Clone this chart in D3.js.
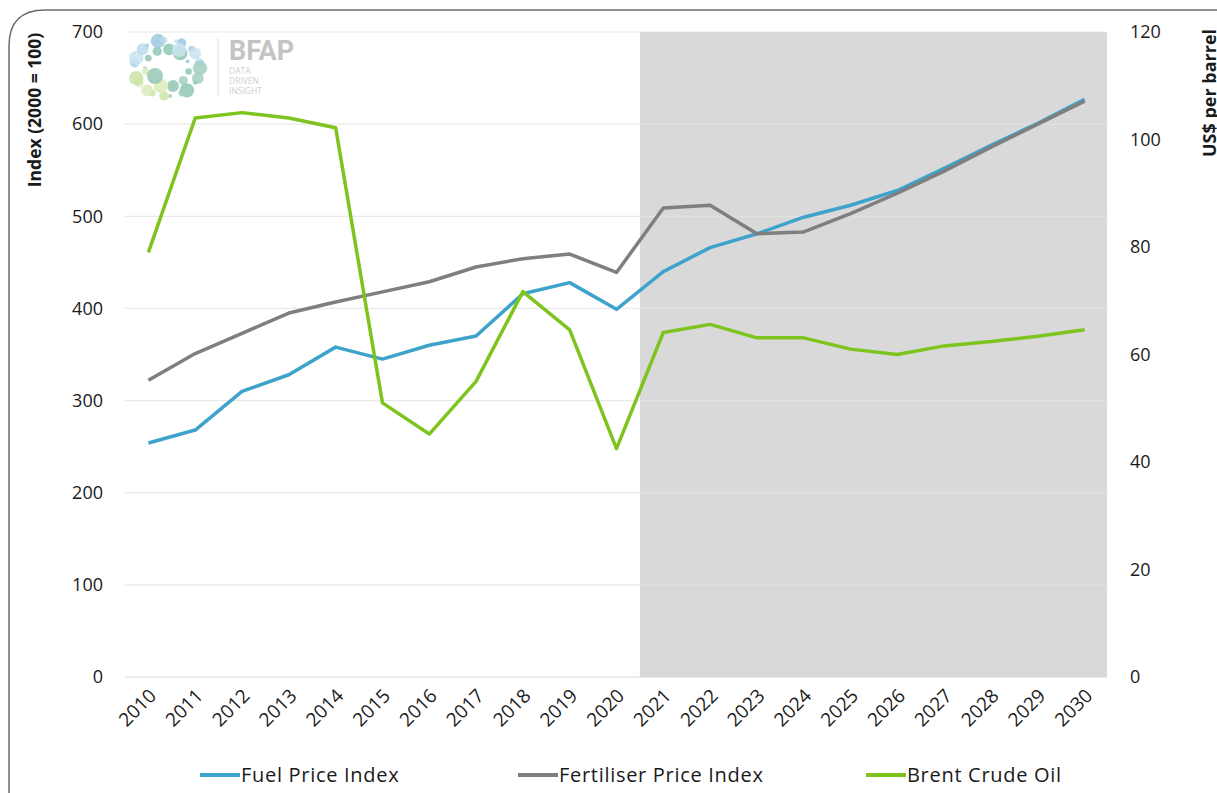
<!DOCTYPE html>
<html>
<head>
<meta charset="utf-8">
<script src="https://cdn.jsdelivr.net/npm/d3@7"></script>
<style>
    body { margin: 0; background: #fff; }
    svg text { font-family: "Open Sans", "Liberation Sans", sans-serif; fill: #1a1a1a; }
</style>
</head>
<body>
<svg id="chart" width="1217" height="793"></svg>
<script>
// Chart data
const years = ['2010','2011','2012','2013','2014','2015','2016','2017','2018','2019','2020',
               '2021','2022','2023','2024','2025','2026','2027','2028','2029','2030'];
const fuelIndex = [254, 268, 310, 328, 358, 345, 360, 370, 416, 428, 399,
                   440, 466, 481, 499, 512, 528, 552, 577, 601, 627];
const fertiliserIndex = [322, 351, 373, 395, 407, 418, 429, 445, 454, 459, 439,
                         509, 512, 481, 483, 503, 525, 549, 575, 600, 625];
const brentCrude = [79, 104, 105, 104, 102.2, 51, 45.2, 55, 71.7, 64.6, 42.5,
                    64.1, 65.6, 63.1, 63.1, 61, 60, 61.6, 62.4, 63.4, 64.6];
const leftTicks = [0, 100, 200, 300, 400, 500, 600, 700];
const rightTicks = [0, 20, 40, 60, 80, 100, 120];
const projectionStart = '2021';

const series = [
    { name: 'Fuel Price Index', values: fuelIndex, axis: 'left', color: '#3ea3cb' },
    { name: 'Fertiliser Price Index', values: fertiliserIndex, axis: 'left', color: '#7f7f7f' },
    { name: 'Brent Crude Oil', values: brentCrude, axis: 'right', color: '#7ec41e' }
];

const svg = d3.select('#chart');
const plot = { left: 125, right: 1108, top: 32, bottom: 677 };

const x = d3.scaleBand().domain(years).range([plot.left, plot.right]);
const yLeft = d3.scaleLinear().domain([0, 700]).range([plot.bottom, plot.top]);
const yRight = d3.scaleLinear().domain([0, 120]).range([plot.bottom, plot.top]);

// outer frame with rounded corner
svg.append('path')
    .attr('d', 'M9,793 L9,46 Q9,10 45,10 L1217,10')
    .attr('fill', 'none')
    .attr('stroke', '#6b6b6b')
    .attr('stroke-width', 1.5);

// projection shading
svg.append('rect')
    .attr('x', x(projectionStart))
    .attr('y', plot.top)
    .attr('width', plot.right - 1 - x(projectionStart))
    .attr('height', plot.bottom - plot.top)
    .attr('fill', '#d9d9d9');

// gridlines
svg.append('g')
    .selectAll('line')
    .data(leftTicks)
    .join('line')
    .attr('x1', plot.left)
    .attr('x2', plot.right - 1)
    .attr('y1', d => yLeft(d))
    .attr('y2', d => yLeft(d))
    .attr('stroke', d => d === 0 ? '#d0d0d0' : '#e3e3e3')
    .attr('stroke-opacity', 0.8)
    .attr('stroke-width', 1.2);

// logo
const logo = svg.append('g').attr('transform', 'translate(167,68)');
const dotColors = ['#b9dcec', '#a6d0e6', '#c9e4f0', '#9fc9df', '#8fc6b4', '#a3cfbf', '#cbe3a6', '#d9ebb8'];
d3.range(34).forEach(i => {
    const a = i / 34 * 2 * Math.PI;
    const ring = i % 3 === 0 ? 22 : 33;
    const size = 2 + (i * 7 % 5) * 1.3;
    let c = a < Math.PI ? dotColors[i % 4] : (a < 1.5 * Math.PI ? dotColors[4 + i % 2] : dotColors[6 + i % 2]);
    if (a > Math.PI * 0.15 && a < Math.PI * 0.85 && i % 3 === 0) c = dotColors[4];
    logo.append('circle')
        .attr('cx', Math.cos(a + Math.PI) * ring)
        .attr('cy', Math.sin(a + Math.PI) * ring * 0.85)
        .attr('r', size)
        .attr('fill', c)
        .attr('opacity', 0.85);
});
logo.append('circle').attr('cx', -12).attr('cy', 8).attr('r', 8).attr('fill', '#8fc6b4').attr('opacity', 0.8);
logo.append('circle').attr('cx', 12).attr('cy', -18).attr('r', 7).attr('fill', '#c9e4f0').attr('opacity', 0.9);
logo.append('line').attr('x1', 51).attr('x2', 51).attr('y1', -30).attr('y2', 28)
    .attr('stroke', '#e0e0e0').attr('stroke-width', 1);
logo.append('text').attr('x', 62).attr('y', -8).text('BFAP')
    .style('font-size', '27px').style('font-weight', 'bold').style('fill', '#c4c4c4')
    .style('font-family', 'Roboto, sans-serif');
['DATA', 'DRIVEN', 'INSIGHT'].forEach((t, i) => {
    logo.append('text').attr('x', 62).attr('y', 6 + i * 10).text(t)
        .style('font-size', '8.5px').style('fill', '#cfcfcf');
});

// lines
const lineFor = s => d3.line()
    .x((d, i) => x(years[i]) + x.bandwidth() / 2)
    .y(d => s.axis === 'left' ? yLeft(d) : yRight(d));

series.forEach(s => {
    svg.append('path')
        .datum(s.values)
        .attr('fill', 'none')
        .attr('stroke', s.color)
        .attr('stroke-width', 3.5)
        .attr('stroke-linejoin', 'round')
        .attr('d', lineFor(s));
});

// axes
const leftAxis = svg.append('g')
    .attr('transform', `translate(${plot.left - 22},0)`)
    .call(d3.axisLeft(yLeft).tickValues(leftTicks).tickSize(0).tickPadding(0));
const rightAxis = svg.append('g')
    .attr('transform', `translate(${plot.right + 22},0)`)
    .call(d3.axisRight(yRight).tickValues(rightTicks).tickSize(0).tickPadding(0));
[leftAxis, rightAxis].forEach(a => {
    a.select('.domain').remove();
    a.selectAll('text').style('font-size', '18px').style('font-family', '"Open Sans", sans-serif').attr('fill', '#1a1a1a');
});

const bottomAxis = svg.append('g')
    .attr('transform', `translate(0,${plot.bottom})`)
    .call(d3.axisBottom(x).tickSize(0).tickPadding(0));
bottomAxis.select('.domain').remove();
bottomAxis.selectAll('text')
    .attr('text-anchor', 'end')
    .attr('dy', 0)
    .attr('transform', 'translate(9,20) rotate(-45)')
    .style('font-size', '19px')
    .style('font-family', '"Open Sans", sans-serif')
    .attr('fill', '#1a1a1a');

// axis titles
svg.append('text')
    .attr('transform', 'translate(41,110) rotate(-90)')
    .attr('text-anchor', 'middle')
    .style('font-size', '17.5px')
    .style('font-weight', 'bold')
    .text('Index (2000 = 100)');
svg.append('text')
    .attr('transform', 'translate(1216,93) rotate(-90)')
    .attr('text-anchor', 'middle')
    .style('font-size', '18px')
    .style('font-weight', 'bold')
    .text('US$ per barrel');

// legend
const legendX = [200, 518, 866];
const legend = svg.append('g')
    .selectAll('g')
    .data(series)
    .join('g')
    .attr('transform', (d, i) => `translate(${legendX[i]},775)`);
legend.append('line')
    .attr('x1', 0).attr('x2', 40)
    .attr('stroke', d => d.color)
    .attr('stroke-width', 4);
legend.append('text')
    .attr('x', 41)
    .attr('dy', '0.35em')
    .style('font-size', '20px')
    .style('letter-spacing', '0.7px')
    .text(d => d.name);
</script>
</body>
</html>
